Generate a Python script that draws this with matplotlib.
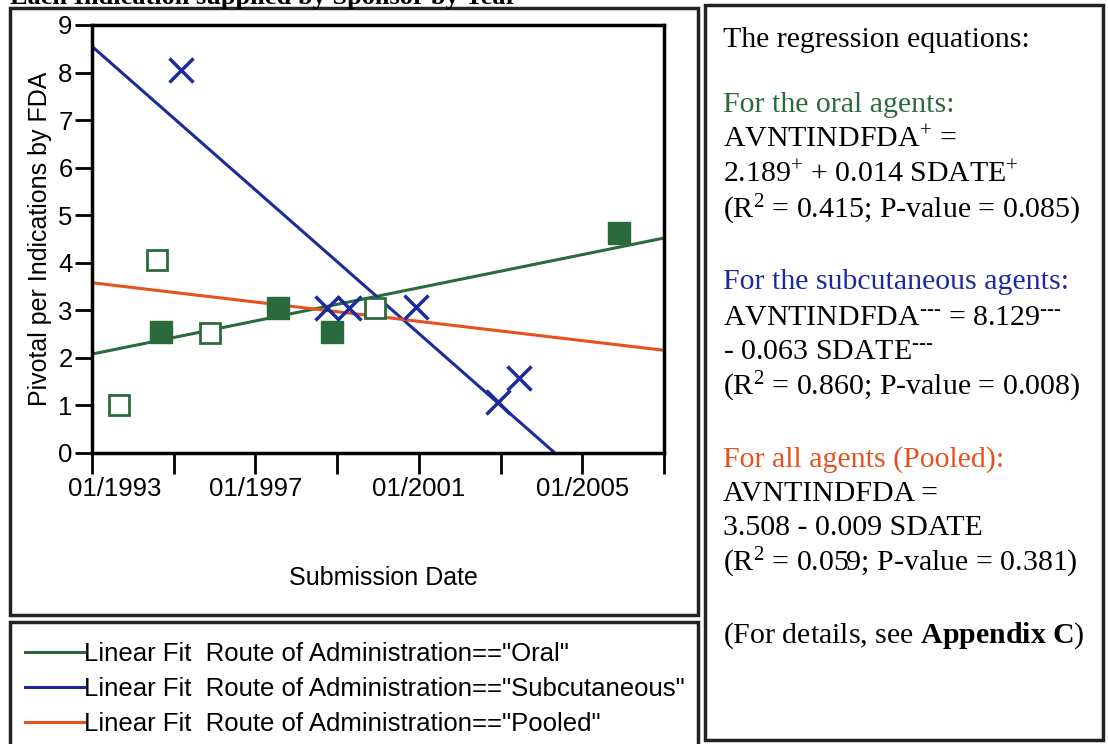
import numpy as np
import matplotlib
matplotlib.use("Agg")
from matplotlib import pyplot as plt
from matplotlib.patches import Rectangle
from matplotlib.transforms import ScaledTranslation

# data (x = decimal year of submission)
oral_open_x = [1993.67, 1994.58, 1995.89, 1999.93]
oral_open_y = [1.0, 4.05, 2.52, 3.05]
oral_fill_x = [1994.69, 1997.55, 1998.87, 2005.90]
oral_fill_y = [2.55, 3.05, 2.55, 4.62]
subq_x = [1995.18, 1998.74, 1999.29, 2000.93, 2002.93, 2003.45]
subq_y = [8.05, 3.05, 3.05, 3.07, 1.08, 1.58]

# end points of the fitted lines
fit_oral_x = [1993, 2007]
fit_oral_y = [2.08, 4.52]
fit_subq_x = [1993, 2004.33]
fit_subq_y = [8.55, 0.0]
fit_pool_x = [1993, 2007]
fit_pool_y = [3.58, 2.16]

xticks = [1993, 1995, 1997, 1999, 2001, 2003, 2005, 2007]
xticklabels = ['01/1993', '', '01/1997', '', '01/2001', '', '01/2005', '']

GREEN = '#2b6a3c'
BLUE = '#1c2b9c'
ORANGE = '#e6521f'

plt.rcParams['font.family'] = ['Liberation Sans', 'DejaVu Sans']
plt.rcParams['mathtext.fontset'] = 'custom'
plt.rcParams['mathtext.rm'] = 'Liberation Serif'
plt.rcParams['mathtext.it'] = 'Liberation Serif:italic'
plt.rcParams['mathtext.bf'] = 'Liberation Serif:bold'

W, H = 1108, 744
fig = plt.figure(figsize=(W / 100, H / 100), dpi=100)

def fx(px):
    return px / W

def fy(py):
    return 1 - py / H

ax = fig.add_axes([fx(92), fy(453), fx(664) - fx(92), fy(25) - fy(453)])

ax.plot(fit_oral_x, fit_oral_y, color=GREEN, lw=2.2, label='Linear Fit  Route of Administration=="Oral"')
ax.plot(fit_subq_x, fit_subq_y, color=BLUE, lw=2.2, label='Linear Fit  Route of Administration=="Subcutaneous"')
ax.plot(fit_pool_x, fit_pool_y, color=ORANGE, lw=2.2, label='Linear Fit  Route of Administration=="Pooled"')

ax.plot(oral_open_x, oral_open_y, 's', ls='none', ms=14, mfc='white', mec=GREEN, mew=2)
ax.plot(oral_fill_x, oral_fill_y, 's', ls='none', ms=16, mfc=GREEN, mec=GREEN)
ax.plot(subq_x, subq_y, 'x', ls='none', ms=17, mec=BLUE, mew=2.5)

ax.set_xlim(1993, 2007)
ax.set_ylim(0, 9)
ax.set_xticks(xticks)
ax.set_xticklabels(xticklabels)
ax.set_yticks(range(0, 10))
ax.tick_params(axis='x', direction='out', length=15, width=2, labelsize=18.5, pad=2)
ax.tick_params(axis='y', direction='out', length=12, width=2, labelsize=18.5, pad=2)
for s in ax.spines.values():
    s.set_linewidth(2.5)

# first date label sits a bit to the right of its tick
first = ax.get_xticklabels()[0]
first.set_transform(first.get_transform() + ScaledTranslation(23 / 100, 0, fig.dpi_scale_trans))

ax.set_ylabel('Pivotal per Indications by FDA', fontsize=18)
ax.yaxis.set_label_coords(-0.07, 0.5)
fig.text(fx(383), fy(578), 'Submission Date', fontsize=18, ha='center', va='center')

# legend below the plot panel
leg = fig.legend(handles=ax.lines[:3], loc='upper left',
                 bbox_to_anchor=(fx(25), fy(642)), frameon=False,
                 prop={'family': ['Liberation Sans Narrow', 'Liberation Sans'], 'size': 18.5},
                 handlelength=2.3, handletextpad=0.0, labelspacing=0.42,
                 borderaxespad=0, borderpad=0)

# panel frames
for (x0, y0, x1, y1) in [(10, 8, 698, 615), (10, 622, 698, 750), (705, 5, 1103, 740)]:
    fig.add_artist(Rectangle((fx(x0), fy(y1)), fx(x1) - fx(x0), fy(y0) - fy(y1),
                             transform=fig.transFigure, fill=False, lw=2.5, ec='#222222'))

# cut-off heading at the very top
fig.text(fx(10), fy(4), 'Each Indication supplied by Sponsor by Year', fontsize=19,
         family='Liberation Serif', weight='bold', va='baseline')

# regression equations
serif = dict(family='Liberation Serif', fontsize=21.5, va='center', ha='left')
tx = fx(723)
lines = [
    (40, 'The regression equations:', 'black'),
    (105, 'For the oral agents:', GREEN),
    (140, 'AVNTINDFDA$^{+}$ =', 'black'),
    (175, '2.189$^{+}$ + 0.014 SDATE$^{+}$', 'black'),
    (210, '(R$^{2}$ = 0.415; P-value = 0.085)', 'black'),
    (282, 'For the subcutaneous agents:', BLUE),
    (318, 'AVNTINDFDA$^{\\text{---}}$ = 8.129$^{\\text{---}}$', 'black'),
    (352, '- 0.063 SDATE$^{\\text{---}}$', 'black'),
    (387, '(R$^{2}$ = 0.860; P-value = 0.008)', 'black'),
    (460, 'For all agents (Pooled):', ORANGE),
    (494, 'AVNTINDFDA =', 'black'),
    (528, '3.508 - 0.009 SDATE', 'black'),
    (563, '(R$^{2}$ = 0.059; P-value = 0.381)', 'black'),
    (636, '(For details, see $\\mathbf{Appendix\\ C}$)', 'black'),
]
for py, s, c in lines:
    fig.text(tx, fy(py), s, color=c, **serif)

fig.savefig('out.png', dpi=100)
